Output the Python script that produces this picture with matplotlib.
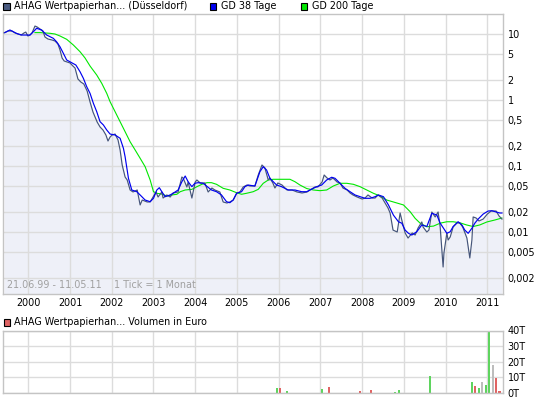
import matplotlib
matplotlib.use("Agg")
import matplotlib.pyplot as plt
from matplotlib.patches import Rectangle
from matplotlib.ticker import NullLocator

plt.rcParams['font.family'] = ['Liberation Sans Narrow', 'DejaVu Sans']

# ---------------- data ----------------
price_years = [1999.42, 1999.51, 1999.61, 1999.68, 1999.75, 1999.83, 1999.90, 1999.94, 1999.99, 2000.04,
               2000.09, 2000.16, 2000.21, 2000.28, 2000.35, 2000.40, 2000.47, 2000.57, 2000.64, 2000.71,
               2000.76, 2000.81, 2000.86, 2000.93, 2001.00, 2001.07, 2001.12, 2001.19, 2001.26, 2001.33,
               2001.41, 2001.48, 2001.55, 2001.65, 2001.72, 2001.79, 2001.86, 2001.91, 2001.96, 2002.01,
               2002.08, 2002.15, 2002.20, 2002.25, 2002.32, 2002.37, 2002.44, 2002.51, 2002.61, 2002.68,
               2002.73, 2002.85, 2002.92, 2002.99, 2003.06, 2003.11, 2003.20, 2003.23, 2003.32, 2003.40,
               2003.47, 2003.59, 2003.68, 2003.71, 2003.80, 2003.83, 2003.92, 2004.00, 2004.04, 2004.12,
               2004.23, 2004.31, 2004.40, 2004.47, 2004.59, 2004.67, 2004.76, 2004.83, 2004.91, 2005.00,
               2005.07, 2005.15, 2005.24, 2005.31, 2005.43, 2005.51, 2005.60, 2005.67, 2005.75, 2005.79,
               2005.86, 2005.91, 2005.98, 2006.08, 2006.20, 2006.32, 2006.44, 2006.56, 2006.68, 2006.75,
               2006.87, 2006.94, 2007.04, 2007.09, 2007.16, 2007.23, 2007.30, 2007.40, 2007.47, 2007.54,
               2007.64, 2007.71, 2007.78, 2007.88, 2008.00, 2008.07, 2008.14, 2008.24, 2008.31, 2008.38,
               2008.48, 2008.55, 2008.62, 2008.67, 2008.74, 2008.84, 2008.91, 2008.95, 2009.03, 2009.10,
               2009.20, 2009.27, 2009.34, 2009.43, 2009.46, 2009.55, 2009.60, 2009.67, 2009.75, 2009.82,
               2009.87, 2009.91, 2009.94, 2009.96, 2010.03, 2010.06, 2010.11, 2010.18, 2010.27, 2010.34,
               2010.41, 2010.51, 2010.58, 2010.63, 2010.66, 2010.73, 2010.80, 2010.90, 2011.00, 2011.09,
               2011.21, 2011.28, 2011.35]
price_values = [10.4, 11.1, 11.1, 10.4, 10.0, 9.65, 10.4, 10.7, 9.33, 9.65,
                10.4, 13.2, 12.8, 11.9, 11.1, 9.0, 8.4, 8.11, 7.83, 7.06,
                5.72, 4.33, 3.90, 3.77, 3.64, 3.27, 3.05, 2.08, 1.87, 1.75,
                1.37, 0.933, 0.658, 0.464, 0.390, 0.351, 0.295, 0.239, 0.275, 0.295,
                0.305, 0.248, 0.175, 0.1036, 0.0681, 0.0614, 0.0433, 0.0404, 0.0433, 0.0257,
                0.0305, 0.0285, 0.0285, 0.0339, 0.0404, 0.0339, 0.0404, 0.0327, 0.0364, 0.0339,
                0.0390, 0.0404, 0.0681, 0.0658, 0.0481, 0.0572, 0.0327, 0.0572, 0.0614, 0.0553,
                0.0553, 0.0404, 0.0464, 0.0433, 0.0404, 0.0285, 0.0275, 0.0285, 0.0305, 0.0390,
                0.0404, 0.0481, 0.0515, 0.0498, 0.0498, 0.0730, 0.1036, 0.0933, 0.0614, 0.0658,
                0.0553, 0.0464, 0.0553, 0.0515, 0.0433, 0.0433, 0.0404, 0.0390, 0.0404, 0.0433,
                0.0481, 0.0481, 0.0572, 0.0730, 0.0658, 0.0614, 0.0658, 0.0572, 0.0553, 0.0464,
                0.0433, 0.0390, 0.0364, 0.0339, 0.0316, 0.0327, 0.0364, 0.0327, 0.0327, 0.0364,
                0.0327, 0.0275, 0.0231, 0.0194, 0.0107, 0.0100, 0.0194, 0.0152, 0.00966, 0.0081,
                0.00966, 0.0090, 0.0115, 0.0142, 0.0119, 0.0100, 0.0107, 0.0201, 0.0169, 0.0201,
                0.0119, 0.00534, 0.00295, 0.00481, 0.00966, 0.00756, 0.0084, 0.0119, 0.0137, 0.0137,
                0.0119, 0.0081, 0.00404, 0.00756, 0.0169, 0.0163, 0.0147, 0.0157, 0.0187, 0.0208,
                0.0208, 0.0175, 0.0157]

gd38_years = [1999.44, 1999.56, 1999.72, 1999.84, 1999.96, 2000.04, 2000.12, 2000.20, 2000.32, 2000.44,
              2000.60, 2000.68, 2000.76, 2000.84, 2000.92, 2001.04, 2001.14, 2001.24, 2001.32, 2001.40,
              2001.48, 2001.56, 2001.64, 2001.72, 2001.80, 2001.88, 2001.96, 2002.08, 2002.20, 2002.28,
              2002.32, 2002.40, 2002.48, 2002.60, 2002.68, 2002.80, 2002.92, 2003.00, 2003.08, 2003.14,
              2003.20, 2003.28, 2003.40, 2003.47, 2003.59, 2003.68, 2003.76, 2003.83, 2003.92, 2003.99,
              2004.07, 2004.19, 2004.29, 2004.39, 2004.51, 2004.63, 2004.75, 2004.83, 2004.91, 2004.99,
              2005.11, 2005.19, 2005.27, 2005.43, 2005.55, 2005.63, 2005.71, 2005.79, 2005.87, 2005.95,
              2006.07, 2006.23, 2006.39, 2006.55, 2006.67, 2006.75, 2006.91, 2007.03, 2007.15, 2007.27,
              2007.35, 2007.47, 2007.59, 2007.71, 2007.83, 2007.95, 2008.07, 2008.19, 2008.31, 2008.39,
              2008.51, 2008.63, 2008.75, 2008.87, 2008.95, 2009.03, 2009.11, 2009.19, 2009.31, 2009.43,
              2009.55, 2009.67, 2009.79, 2009.87, 2009.95, 2010.03, 2010.11, 2010.18, 2010.30, 2010.39,
              2010.46, 2010.54, 2010.63, 2010.70, 2010.78, 2010.90, 2011.02, 2011.11, 2011.21, 2011.30,
              2011.35]
gd38_values = [10.5, 11.5, 10.2, 9.65, 9.65, 9.65, 10.8, 12.2, 11.5, 9.65,
               8.6, 7.6, 6.4, 5.1, 4.04, 3.67, 3.39, 2.68, 2.13, 1.59,
               1.26, 0.89, 0.665, 0.469, 0.418, 0.351, 0.305, 0.295, 0.263, 0.185,
               0.138, 0.0651, 0.0433, 0.0408, 0.0364, 0.0305, 0.0288, 0.0324, 0.0433, 0.0469,
               0.0408, 0.0343, 0.0364, 0.0386, 0.0433, 0.0578, 0.0705, 0.0578, 0.0486, 0.0547,
               0.0559, 0.0547, 0.0486, 0.0433, 0.0408, 0.0364, 0.0288, 0.0278, 0.0305, 0.0386,
               0.0408, 0.0486, 0.0515, 0.0497, 0.082, 0.0976, 0.087, 0.0651, 0.0578, 0.0515,
               0.0486, 0.0433, 0.0433, 0.0408, 0.0408, 0.0433, 0.0486, 0.0515, 0.0614, 0.0675,
               0.0651, 0.0547, 0.0459, 0.0408, 0.0364, 0.0343, 0.0324, 0.0324, 0.0343, 0.0364,
               0.0343, 0.0257, 0.0180, 0.0143, 0.0136, 0.0107, 0.00955, 0.0090, 0.0101, 0.0128,
               0.0121, 0.0192, 0.0181, 0.0136, 0.0114, 0.00955, 0.0101, 0.0121, 0.0143, 0.0128,
               0.0107, 0.00955, 0.0114, 0.0136, 0.0157, 0.0187, 0.0208, 0.0210, 0.0201, 0.0194,
               0.0194]

gd200_years = [2000.16, 2000.28, 2000.52, 2000.64, 2000.76, 2000.92, 2001.08, 2001.24, 2001.36, 2001.48,
               2001.64, 2001.76, 2001.88, 2001.96, 2002.08, 2002.20, 2002.32, 2002.44, 2002.56, 2002.68,
               2002.80, 2002.92, 2003.00, 2003.08, 2003.20, 2003.32, 2003.44, 2003.56, 2003.64, 2003.76,
               2003.92, 2004.04, 2004.16, 2004.28, 2004.39, 2004.51, 2004.67, 2004.83, 2004.99, 2005.11,
               2005.23, 2005.39, 2005.51, 2005.63, 2005.75, 2005.87, 2006.07, 2006.27, 2006.39, 2006.51,
               2006.67, 2006.83, 2006.99, 2007.15, 2007.31, 2007.47, 2007.63, 2007.79, 2007.95, 2008.11,
               2008.27, 2008.43, 2008.59, 2008.75, 2008.91, 2008.99, 2009.15, 2009.27, 2009.39, 2009.55,
               2009.71, 2009.87, 2010.03, 2010.18, 2010.34, 2010.50, 2010.66, 2010.82, 2010.99, 2011.18,
               2011.35]
gd200_values = [10.5, 10.5, 10.25, 10.0, 9.33, 8.31, 6.81, 5.39, 4.33, 3.27,
                2.39, 1.79, 1.26, 0.942, 0.665, 0.469, 0.331, 0.233, 0.175, 0.131,
                0.0976, 0.0614, 0.0408, 0.0386, 0.0376, 0.0351, 0.0364, 0.0373, 0.0408, 0.0433,
                0.0443, 0.0486, 0.0528, 0.0559, 0.0559, 0.0528, 0.0459, 0.0433, 0.0394, 0.0373,
                0.0386, 0.0408, 0.0443, 0.0547, 0.0614, 0.0629, 0.0629, 0.0629, 0.0578, 0.0515,
                0.0456, 0.0433, 0.0423, 0.0433, 0.0498, 0.0547, 0.0547, 0.0528, 0.0486, 0.0433,
                0.0386, 0.0351, 0.0305, 0.0285, 0.0266, 0.0257, 0.0203, 0.0161, 0.0136, 0.0120,
                0.0123, 0.0136, 0.0143, 0.0143, 0.0138, 0.0128, 0.0121, 0.0128, 0.0142, 0.0152,
                0.0163]

vol_months = ["2005-12", "2006-01", "2006-03", "2007-01", "2007-03", "2007-12", "2008-03",
              "2008-10", "2008-11", "2009-08", "2010-08", "2010-09", "2010-10", "2010-11",
              "2010-12", "2011-01", "2011-02", "2011-03", "2011-04"]
vol_values = [2.9, 2.9, 1.3, 2.2, 3.6, 0.9, 1.6, 0.7, 1.6, 10.9,
              6.9, 4.2, 2.9, 6.9, 4.9, 39.6, 17.6, 9.6, 0.9]   # thousand Euro
vol_direction = ["up", "down", "up", "up", "down", "down", "down", "up", "up", "up",
                 "up", "down", "up", "flat", "up", "up", "flat", "down", "down"]

year_ticks = list(range(2000, 2012))
price_ticks = [10, 5, 2, 1, 0.5, 0.2, 0.1, 0.05, 0.02, 0.01, 0.005, 0.002]
price_tick_labels = ["10", "5", "2", "1", "0,5", "0,2", "0,1", "0,05", "0,02", "0,01", "0,005", "0,002"]
vol_ticks = [0, 10, 20, 30, 40]
vol_tick_labels = ["0T", "10T", "20T", "30T", "40T"]

# ---------------- styles ----------------
W, H = 545, 398
GRID = '#dcdcdc'
SPINE = '#c4c4c4'
PRICE_C = '#45557a'
FILL_C = '#eef0f8'
GD38_C = '#0000f0'
GD200_C = '#00e800'
VOL_COLORS = {"up": '#5fd45f', "down": '#e06464', "flat": '#bdbdbd'}
FS = 6.9

fig = plt.figure(figsize=(W / 100, H / 100), dpi=100)


def px_axes(x0, y0, x1, y1):
    return fig.add_axes([x0 / W, 1 - y1 / H, (x1 - x0) / W, (y1 - y0) / H])


ax = px_axes(3, 13.5, 502.7, 293.6)
axv = px_axes(3, 330.5, 502.7, 392.9)

# main chart
ax.set_yscale('log')
ax.set_xlim(1999.394, 2011.368)
ax.set_ylim(0.001166, 20.45)
ax.fill_between(price_years, price_values, 1e-4, color=FILL_C, lw=0, zorder=0.3)
ax.plot(gd200_years, gd200_values, color=GD200_C, lw=0.8, zorder=2)
ax.plot(price_years, price_values, color=PRICE_C, lw=0.85, zorder=3)
ax.plot(gd38_years, gd38_values, color=GD38_C, lw=0.85, zorder=4)

ax.set_xticks(year_ticks)
ax.set_xticklabels([str(y) for y in year_ticks])
ax.set_yticks(price_ticks)
ax.set_yticklabels(price_tick_labels)
ax.yaxis.set_minor_locator(NullLocator())
ax.xaxis.set_minor_locator(NullLocator())
ax.yaxis.tick_right()
ax.tick_params(axis='y', length=0, pad=3.5, labelsize=FS)
ax.tick_params(axis='x', length=0, pad=3.2, labelsize=FS)
ax.set_axisbelow(True)
ax.grid(True, color=GRID, lw=1.0)
for s in ax.spines.values():
    s.set_color(SPINE)
    s.set_linewidth(1.0)

ax.text(0.008, 0.03, "21.06.99 - 11.05.11", transform=ax.transAxes, fontsize=FS,
        color='#a0a0a0', va='center', ha='left')
ax.text(0.222, 0.03, "1 Tick = 1 Monat", transform=ax.transAxes, fontsize=FS,
        color='#a0a0a0', va='center', ha='left')

# volume chart
vol_x = [int(m[:4]) + (int(m[5:]) - 0.5) / 12 for m in vol_months]
axv.bar(vol_x, vol_values, width=0.05, color=[VOL_COLORS[d] for d in vol_direction],
        lw=0, zorder=2)
axv.set_xlim(1999.394, 2011.368)
axv.set_ylim(0, 40)
axv.set_xticks(year_ticks)
axv.set_xticklabels([])
axv.set_yticks(vol_ticks)
axv.set_yticklabels(vol_tick_labels)
axv.yaxis.tick_right()
axv.tick_params(axis='both', length=0, labelsize=FS)
axv.tick_params(axis='y', pad=3.5)
axv.set_axisbelow(True)
axv.grid(True, color=GRID, lw=1.0)
for s in axv.spines.values():
    s.set_color(SPINE)
    s.set_linewidth(1.0)


# legends (figure pixel coordinates)
def legend_item(x, y, color, label):
    fig.add_artist(Rectangle((x / W, 1 - (y + 6.5) / H), 6.5 / W, 6.5 / H,
                             transform=fig.transFigure, facecolor=color,
                             edgecolor='black', lw=0.8))
    fig.text((x + 11) / W, 1 - (y + 3.3) / H, label, fontsize=FS, va='center', ha='left')


legend_item(3, 3, '#4a5a80', "AHAG Wertpapierhan... (Düsseldorf)")
legend_item(209.7, 3, GD38_C, "GD 38 Tage")
legend_item(300.5, 3, GD200_C, "GD 200 Tage")
legend_item(3.5, 319, '#e06464', "AHAG Wertpapierhan... Volumen in Euro")

assert len(price_years) == len(price_values)
assert len(gd38_years) == len(gd38_values)
assert len(gd200_years) == len(gd200_values)

fig.savefig("out.png", dpi=100)
